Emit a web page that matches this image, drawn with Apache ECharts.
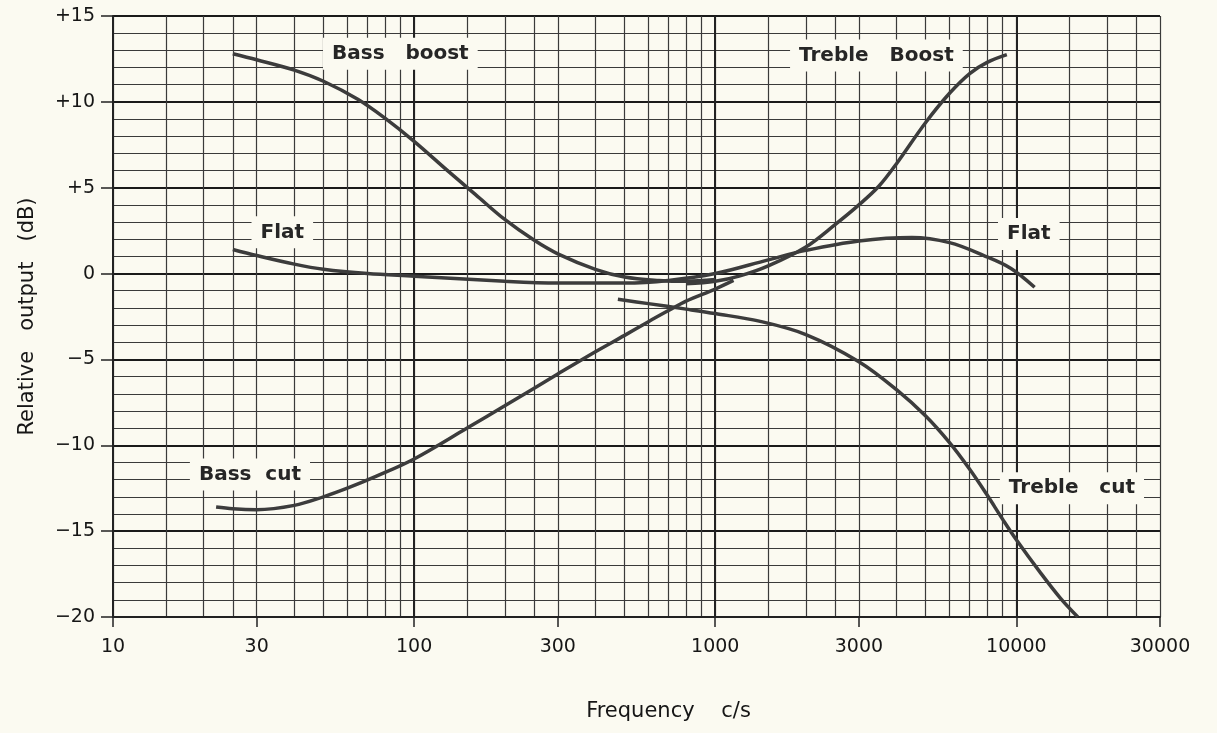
<!DOCTYPE html>
<html>
<head>
<meta charset="utf-8">
<title>Tone control response</title>
<script src="https://cdn.jsdelivr.net/npm/echarts@6/dist/echarts.min.js"></script>
<style>
    html, body { margin: 0; padding: 0; background: #fbfaf1; }
    #chart { width: 1217px; height: 733px; }
</style>
</head>
<body>
<div id="chart"></div>
<script>
// axis ticks
var freqTicks = [10, 30, 100, 300, 1000, 3000, 10000, 30000];
var freqDecades = [10, 100, 1000, 10000];
var freqGrid = [10, 15, 20, 25, 30, 40, 50, 60, 70, 80, 90,
    100, 150, 200, 250, 300, 400, 500, 600, 700, 800, 900,
    1000, 1500, 2000, 2500, 3000, 4000, 5000, 6000, 7000, 8000, 9000,
    10000, 15000, 20000, 25000, 30000];

// curves (frequency c/s, dB)
var bassBoostF  = [25, 30, 40, 50, 65, 80, 100, 130, 160, 200, 250, 300, 400, 500, 650, 800, 1000];
var bassBoostDb = [12.8, 12.45, 11.85, 11.2, 10.15, 9.05, 7.7, 5.95, 4.6, 3.15, 1.95, 1.15, 0.25, -0.2, -0.4, -0.45, -0.35];

var flatF  = [25, 30, 40, 50, 70, 100, 200, 300, 500, 700, 1000, 1500, 2000, 3000, 4500, 6000, 7800, 9600, 11500];
var flatDb = [1.4, 1.05, 0.55, 0.25, 0.0, -0.15, -0.45, -0.55, -0.55, -0.4, 0.0, 0.8, 1.35, 1.9, 2.1, 1.8, 1.05, 0.3, -0.8];

var trebleBoostF  = [800, 1000, 1200, 1500, 2000, 2500, 3000, 3500, 4000, 5000, 6000, 7000, 8000, 9300];
var trebleBoostDb = [-0.6, -0.45, -0.15, 0.45, 1.55, 2.85, 4.0, 5.1, 6.4, 8.8, 10.5, 11.65, 12.3, 12.75];

var bassCutF  = [22, 25, 30, 40, 50, 60, 75, 100, 150, 200, 300, 400, 500, 600, 700, 800, 1000, 1150];
var bassCutDb = [-13.6, -13.7, -13.75, -13.5, -13.0, -12.5, -11.8, -10.8, -9.0, -7.7, -5.85, -4.55, -3.6, -2.8, -2.15, -1.6, -0.9, -0.4];

var trebleCutF  = [475, 600, 800, 1000, 1400, 2000, 3000, 4000, 5000, 6000, 7000, 8000, 9000, 10000, 12000, 14000, 16000];
var trebleCutDb = [-1.5, -1.75, -2.07, -2.33, -2.77, -3.55, -5.13, -6.76, -8.3, -9.85, -11.4, -12.9, -14.3, -15.5, -17.4, -18.9, -20];

// curve annotations
var noteText = ['Bass   boost', 'Treble   Boost', 'Flat', 'Flat', 'Bass  cut', 'Treble   cut'];
var noteF    = [90, 3430, 36.5, 11000, 28.5, 15300];
var noteDb   = [12.8, 12.7, 2.4, 2.3, -11.7, -12.5];

var FONT = 'DejaVu Sans';
var INK = '#161616';
var CURVE = '#3c3c3c';
var PAPER = '#fbfaf1';

function pairs(f, d) {
    var out = [];
    for (var i = 0; i < f.length; i++) out.push([f[i], d[i]]);
    return out;
}

function curve(name, f, d) {
    return {
        name: name,
        type: 'line',
        xAxisIndex: 0,
        yAxisIndex: 0,
        smooth: 0.35,
        symbol: 'none',
        z: 5,
        lineStyle: { color: CURVE, width: 3.5 },
        data: pairs(f, d)
    };
}

function dbLabel(v) {
    if (v > 0) return '+' + v;
    if (v < 0) return '\u2212' + (-v);
    return '0';
}

// log axis over the plot range, used for grid layers
function freqAxis(extra) {
    var ax = {
        type: 'log',
        logBase: 10,
        min: 10,
        max: 30000,
        position: 'bottom',
        axisLine: { show: false, onZero: false },
        axisTick: { show: false },
        axisLabel: { show: false },
        splitLine: { show: false }
    };
    for (var k in extra) ax[k] = extra[k];
    return ax;
}

var chart = echarts.init(document.getElementById('chart'), null, { renderer: 'canvas' });

var noteData = [];
for (var i = 0; i < noteText.length; i++) {
    noteData.push({ value: [noteF[i], noteDb[i]], name: noteText[i] });
}

var option = {
    backgroundColor: PAPER,
    animation: false,
    grid: { left: 113, right: 57, top: 16, bottom: 116 },
    xAxis: [
        freqAxis({
            axisTick: { show: false, customValues: freqGrid },
            splitLine: { show: true, lineStyle: { color: '#3a3a3a', width: 1.2 } }
        }),
        freqAxis({
            axisTick: { show: false, customValues: freqDecades },
            splitLine: { show: true, lineStyle: { color: '#222', width: 2 } }
        }),
        freqAxis({
            name: 'Frequency    c/s',
            nameLocation: 'middle',
            nameGap: 84,
            nameTextStyle: { fontFamily: FONT, fontSize: 21, color: INK, padding: [0, 0, 0, 64] },
            axisLine: { show: true, onZero: false, lineStyle: { color: '#222', width: 2 } },
            axisTick: { show: true, customValues: freqTicks, length: 10, lineStyle: { color: '#222', width: 1.5 } },
            axisLabel: {
                show: true,
                customValues: freqTicks,
                margin: 21,
                fontFamily: FONT,
                fontSize: 19,
                color: INK,
                formatter: function (v) { return String(Math.round(v)); }
            }
        })
    ],
    yAxis: [
        {
            // 1 dB lines
            type: 'value',
            min: -20,
            max: 15,
            interval: 1,
            position: 'left',
            axisLine: { show: false, onZero: false },
            axisTick: { show: false },
            axisLabel: { show: false },
            splitLine: { show: true, lineStyle: { color: '#3a3a3a', width: 1.2 } }
        },
        {
            type: 'value',
            min: -20,
            max: 15,
            interval: 5,
            position: 'left',
            name: 'Relative   output   (dB)',
            nameLocation: 'middle',
            nameRotate: 90,
            nameGap: 75,
            nameTextStyle: { fontFamily: FONT, fontSize: 21, color: INK },
            axisLine: { show: true, onZero: false, lineStyle: { color: '#222', width: 2 } },
            axisTick: { show: true, length: 12, lineStyle: { color: '#222', width: 1.5 } },
            axisLabel: {
                margin: 18,
                fontFamily: FONT,
                fontSize: 19,
                color: INK,
                formatter: dbLabel
            },
            splitLine: { show: true, lineStyle: { color: '#1a1a1a', width: 2.2 } }
        }
    ],
    series: [
        curve('Bass boost', bassBoostF, bassBoostDb),
        curve('Flat', flatF, flatDb),
        curve('Treble boost', trebleBoostF, trebleBoostDb),
        curve('Bass cut', bassCutF, bassCutDb),
        curve('Treble cut', trebleCutF, trebleCutDb),
        {
            name: 'notes',
            type: 'scatter',
            xAxisIndex: 0,
            yAxisIndex: 0,
            symbolSize: 0,
            z: 10,
            silent: true,
            itemStyle: { opacity: 1 },
            label: {
                show: true,
                position: 'inside',
                formatter: '{b}',
                fontFamily: FONT,
                fontSize: 20,
                fontWeight: 'bold',
                color: '#262626',
                opacity: 1,
                backgroundColor: PAPER,
                padding: [6, 9]
            },
            data: noteData
        }
    ]
};

chart.setOption(option);
</script>
</body>
</html>
